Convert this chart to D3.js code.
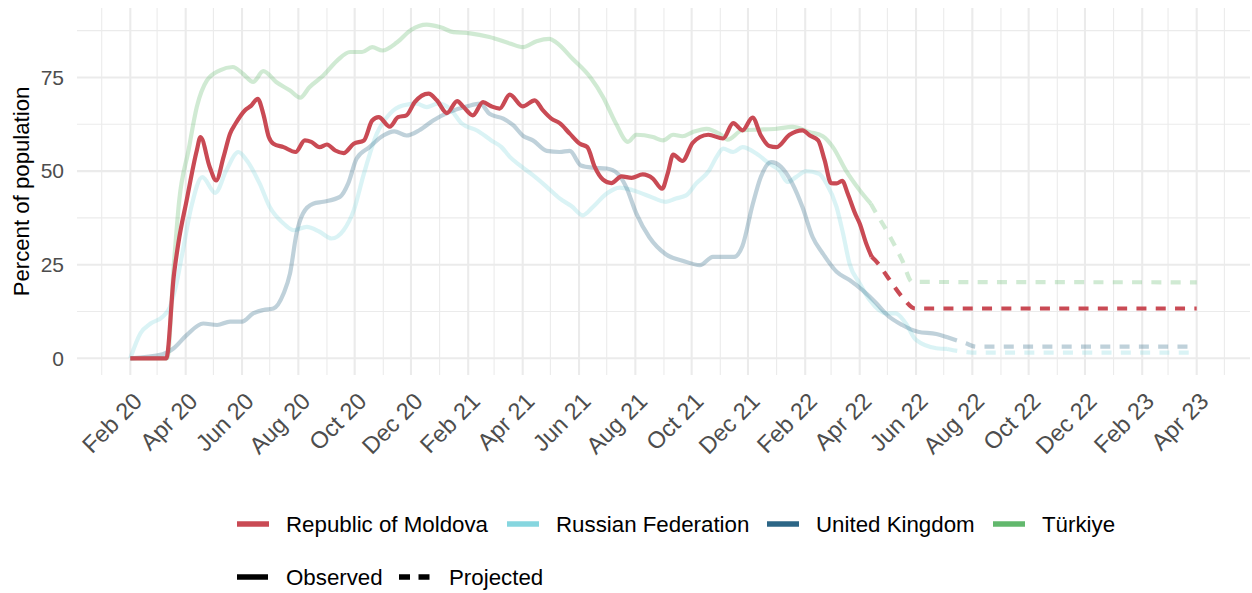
<!DOCTYPE html>
<html><head><meta charset="utf-8">
<script src="https://cdn.jsdelivr.net/npm/d3@7"></script>
<style>
html,body{margin:0;padding:0;background:#fff;}
svg{display:block;font-family:"Liberation Sans",Arial,sans-serif;}
</style></head>
<body><svg id="chart" width="1252" height="593"></svg>
<script>
// ---- data (percent of population) ----
const countries = ["Republic of Moldova","Russian Federation","United Kingdom","Türkiye"];
const colors = ["#c94a54","#86d6df","#2c6686","#62b86d"];
const statusLabels = ["Observed","Projected"];
const observedEnd = ["2022-04-14","2022-07-05","2022-07-05","2022-04-13"];

const moldova = [["2020-02-01",0],["2020-03-11",0],["2020-03-19",21.8],["2020-03-24",30.7],["2020-04-02",42.2],["2020-04-13",55.5],["2020-04-17",59.1],["2020-04-27",51.1],["2020-05-04",47.5],["2020-05-12",53.8],["2020-05-19",60],["2020-05-25",62.7],["2020-06-04",66.2],["2020-06-11",67.5],["2020-06-18",69.3],["2020-06-24",65.3],["2020-06-30",59.1],["2020-07-05",57.3],["2020-07-16",56.4],["2020-07-29",55.1],["2020-08-08",58.2],["2020-08-15",57.8],["2020-08-24",56.4],["2020-09-01",57.1],["2020-09-10",55.5],["2020-09-19",54.8],["2020-09-30",57.3],["2020-10-11",58.2],["2020-10-20",63.5],["2020-10-27",64.4],["2020-11-08",61.9],["2020-11-17",64.4],["2020-11-26",64.9],["2020-12-05",68.4],["2020-12-20",70.7],["2020-12-29",68.9],["2021-01-09",65.5],["2021-01-20",68.7],["2021-01-27",67.1],["2021-02-06",64.9],["2021-02-17",68.4],["2021-02-26",67.3],["2021-03-07",66.7],["2021-03-18",70.4],["2021-04-01",67.3],["2021-04-14",68.9],["2021-04-23",66.2],["2021-05-02",64],["2021-05-11",62.8],["2021-05-22",60],["2021-06-02",57.3],["2021-06-10",56.4],["2021-06-18",51.1],["2021-06-27",47.7],["2021-07-06",46.8],["2021-07-17",48.6],["2021-07-28",48.2],["2021-08-09",49.1],["2021-08-20",48],["2021-08-30",45.3],["2021-09-05",49.3],["2021-09-11",54.4],["2021-09-21",52.7],["2021-10-02",57.5],["2021-10-10",59.1],["2021-10-19",59.7],["2021-11-04",58.7],["2021-11-15",62.8],["2021-11-25",60.9],["2021-12-06",64.3],["2021-12-15",59.5],["2021-12-24",56.7],["2022-01-01",56.4],["2022-01-15",59.7],["2022-01-29",60.9],["2022-02-06",59.5],["2022-02-15",58.2],["2022-02-22",52.9],["2022-03-01",46.8],["2022-03-07",46.7],["2022-03-13",47.4],["2022-03-19",44],["2022-03-27",38.7],["2022-04-01",36],["2022-04-08",30.7],["2022-04-14",27.1],["2022-04-21",25.3],["2022-05-01",21.8],["2022-05-17",16.4],["2022-05-31",13.3],["2023-04-01",13.3]];

const russia = [["2020-02-01",0],["2020-02-12",6.7],["2020-02-23",9.3],["2020-03-07",11.1],["2020-03-15",13.8],["2020-03-22",20],["2020-03-29",28.9],["2020-04-07",40.4],["2020-04-19",48.4],["2020-05-03",44.2],["2020-05-15",50.2],["2020-05-28",55.1],["2020-06-06",52.9],["2020-06-20",46.7],["2020-07-01",40.4],["2020-07-16",36],["2020-07-27",34.2],["2020-08-10",35.1],["2020-08-24",33.8],["2020-09-06",32],["2020-09-19",34.2],["2020-09-30",39.5],["2020-10-11",49.3],["2020-10-25",60],["2020-11-08",65.3],["2020-11-22",67.5],["2020-12-07",68],["2020-12-18",67.1],["2020-12-30",68],["2021-01-12",66.7],["2021-01-25",62.7],["2021-02-10",60.9],["2021-02-26",58.2],["2021-03-09",56.4],["2021-03-18",53.8],["2021-03-29",51.5],["2021-04-12",48.9],["2021-04-27",45.8],["2021-05-11",42.7],["2021-05-24",40.6],["2021-06-05",38.2],["2021-06-16",40.4],["2021-07-01",44],["2021-07-15",45.6],["2021-07-29",44.9],["2021-08-16",43.3],["2021-09-03",41.8],["2021-09-14",42.7],["2021-09-25",43.5],["2021-10-06",46.7],["2021-10-20",50.2],["2021-10-28",53.8],["2021-11-04",56],["2021-11-15",55.1],["2021-11-25",56.4],["2021-12-10",54.7],["2021-12-24",52],["2022-01-04",50.2],["2022-01-13",47.1],["2022-01-22",48.4],["2022-02-02",50],["2022-02-16",49.3],["2022-02-24",46.7],["2022-03-07",40.4],["2022-03-14",33.3],["2022-03-21",25.3],["2022-04-01",20],["2022-04-12",15.5],["2022-04-30",12],["2022-05-10",12],["2022-05-21",9.3],["2022-06-01",4.9],["2022-06-23",2.7],["2022-07-05",2.5],["2022-07-18",1.9],["2022-08-08",1.5],["2023-04-01",1.5]];

const uk = [["2020-02-01",0],["2020-03-07",1.1],["2020-03-19",2.7],["2020-04-02",6.2],["2020-04-20",9.3],["2020-05-05",8.9],["2020-05-19",9.8],["2020-06-01",9.8],["2020-06-13",12],["2020-06-24",12.9],["2020-07-05",13.3],["2020-07-16",17.3],["2020-07-23",22.7],["2020-07-30",33.3],["2020-08-06",38.7],["2020-08-17",41.3],["2020-08-28",41.8],["2020-09-15",43.1],["2020-09-24",46.7],["2020-10-03",53.3],["2020-10-17",56.4],["2020-11-01",59.5],["2020-11-13",60.6],["2020-11-26",59.5],["2020-12-10",60.9],["2020-12-25",63.5],["2021-01-12",65.8],["2021-01-31",67.3],["2021-02-14",68],["2021-02-24",65.3],["2021-03-11",64],["2021-03-22",62.2],["2021-04-01",59.5],["2021-04-12",58.2],["2021-04-27",55.4],["2021-05-11",55.1],["2021-05-22",55.4],["2021-06-03",51.5],["2021-06-16",50.9],["2021-07-01",50.7],["2021-07-13",49.3],["2021-07-22",45.8],["2021-08-02",38.7],["2021-08-16",32.4],["2021-09-03",27.8],["2021-09-22",26],["2021-10-10",24.9],["2021-10-24",27.1],["2021-11-16",27.1],["2021-11-25",30],["2021-12-06",41],["2021-12-15",48.5],["2021-12-26",52.4],["2022-01-06",51.1],["2022-01-18",46.7],["2022-01-29",40.4],["2022-02-09",32.4],["2022-02-20",28],["2022-03-07",23.1],["2022-03-21",20.9],["2022-04-04",18.2],["2022-04-19",14.7],["2022-05-01",11.5],["2022-05-17",8.9],["2022-06-03",7.1],["2022-06-23",6.5],["2022-07-05",5.6],["2022-07-25",4],["2022-08-05",3.1],["2023-04-01",3.1]];

const turkiye = [["2020-02-01",0],["2020-03-12",0],["2020-03-19",24.4],["2020-03-25",42.2],["2020-04-04",55.5],["2020-04-13",67.1],["2020-04-24",74.2],["2020-05-08",76.9],["2020-05-22",77.8],["2020-06-02",76],["2020-06-13",73.8],["2020-06-24",76.7],["2020-07-08",73.8],["2020-07-23",71.5],["2020-08-03",69.6],["2020-08-13",72.4],["2020-08-28",75.5],["2020-09-12",79.5],["2020-09-26",81.8],["2020-10-09",81.8],["2020-10-20",83.1],["2020-10-31",82.2],["2020-11-16",84.4],["2020-12-01",87.7],["2020-12-18",89.1],["2021-01-02",88.4],["2021-01-16",87.1],["2021-02-03",86.8],["2021-02-24",85.8],["2021-03-18",84.1],["2021-04-01",83.1],["2021-04-16",84.7],["2021-04-30",85.3],["2021-05-07",84.4],["2021-05-25",80],["2021-06-13",75.1],["2021-06-27",69.8],["2021-07-11",62.7],["2021-07-24",57.8],["2021-08-02",59.7],["2021-08-20",59.1],["2021-08-31",58.2],["2021-09-11",59.7],["2021-09-21",59.3],["2021-10-02",60.4],["2021-10-17",61.3],["2021-11-01",59.8],["2021-11-09",58.4],["2021-11-25",60.9],["2021-12-14",61.1],["2022-01-01",61.3],["2022-01-18",61.8],["2022-02-06",60.4],["2022-02-20",59.3],["2022-03-03",56.4],["2022-03-17",50.2],["2022-04-01",44.9],["2022-04-13",41.3],["2022-04-19",38.7],["2022-04-30",34.2],["2022-05-17",26.2],["2022-05-28",20.4],["2023-04-01",20.3]];

const yTicks = [0,25,50,75];
const yMinor = [12.5,37.5,62.5,87.5];
const dataStart = "2020-02-01", dataEnd = "2023-04-01";

// ---- layout ----
const svg = d3.select("#chart");
const P = {left:77, right:1250, top:8, bottom:375};
const parse = d3.utcParse("%Y-%m-%d");
const t0 = parse(dataStart), t1 = parse(dataEnd);
const pad = (t1 - t0) * 0.05;
const x = d3.scaleUtc().domain([new Date(+t0 - pad), new Date(+t1 + pad)]).range([P.left, P.right]);
const yMax = 89.1, yPad = yMax*0.05;
const y = d3.scaleLinear().domain([-yPad, yMax + yPad]).range([P.bottom, P.top]);

const g = svg.append("g");
// grid
const allMonths = d3.utcMonth.range(d3.utcMonth.ceil(x.domain()[0]), x.domain()[1]);
const majorMonths = d3.utcMonth.range(t0, new Date(+t1 + 1), 2);
const majorSet = new Set(majorMonths.map(d=>+d));
g.selectAll(".vminor").data(allMonths.filter(d=>!majorSet.has(+d))).join("line")
  .attr("x1",d=>x(d)).attr("x2",d=>x(d)).attr("y1",P.top).attr("y2",P.bottom)
  .attr("stroke","#ebebeb").attr("stroke-width",1.1);
g.selectAll(".hminor").data(yMinor).join("line")
  .attr("x1",P.left).attr("x2",P.right).attr("y1",d=>y(d)).attr("y2",d=>y(d))
  .attr("stroke","#ebebeb").attr("stroke-width",1.1);
g.selectAll(".vmajor").data(majorMonths).join("line")
  .attr("x1",d=>x(d)).attr("x2",d=>x(d)).attr("y1",P.top).attr("y2",P.bottom)
  .attr("stroke","#ebebeb").attr("stroke-width",2.1);
g.selectAll(".hmajor").data(yTicks).join("line")
  .attr("x1",P.left).attr("x2",P.right).attr("y1",d=>y(d)).attr("y2",d=>y(d))
  .attr("stroke","#ebebeb").attr("stroke-width",2.1);

// y axis labels
const yAxis = d3.axisLeft(y).tickValues(yTicks).tickSize(0).tickPadding(13);
const ya = svg.append("g").attr("transform",`translate(${P.left},0)`).call(yAxis);
ya.select(".domain").remove();
ya.selectAll("text").attr("font-size",21).attr("fill","#4d4d4d").attr("font-family","Liberation Sans, Arial, sans-serif");

svg.append("text").attr("transform",`translate(29,${(P.top+P.bottom)/2}) rotate(-90)`)
  .attr("text-anchor","middle").attr("font-size",22.2).attr("fill","#000")
  .text("Percent of population");

// x axis labels
const fmt = d3.utcFormat("%b %y");
const xAxis = d3.axisBottom(x).tickValues(majorMonths).tickFormat(fmt).tickSize(0);
const xa = svg.append("g").attr("transform",`translate(0,${P.bottom})`).call(xAxis);
xa.select(".domain").remove();
xa.selectAll("text")
  .attr("font-size",23.5).attr("fill","#4d4d4d").attr("font-family","Liberation Sans, Arial, sans-serif")
  .attr("text-anchor","end").attr("y",0).attr("dy","0.71em")
  .attr("transform","translate(1,16) rotate(-45)");

// lines
const line = d3.line().x(d=>x(d[0])).y(d=>y(d[1])).curve(d3.curveMonotoneX);
const series = [moldova, russia, uk, turkiye];
const drawOrder = [3,1,2,0];
const lineW = 4.2;
drawOrder.forEach(i=>{
  const pts = series[i].map(d=>[parse(d[0]), d[1]]);
  const end = parse(observedEnd[i]);
  const obs = pts.filter(d=>d[0] <= end);
  const proj = pts.filter(d=>d[0] >= end);
  const op = i===0 ? 1 : 0.3;
  svg.append("path").attr("d",line(proj)).attr("fill","none").attr("stroke",colors[i])
    .attr("stroke-opacity",op).attr("stroke-width",lineW).attr("stroke-dasharray","10,9.3");
  svg.append("path").attr("d",line(obs)).attr("fill","none").attr("stroke",colors[i])
    .attr("stroke-opacity",op).attr("stroke-width",lineW).attr("stroke-linejoin","round");
});

// legend
const lg = svg.append("g").attr("font-size",22.3).attr("font-family","Liberation Sans, Arial, sans-serif");
const keyX = [237,507,767,993];
countries.forEach((c,i)=>{
  lg.append("line").attr("x1",keyX[i]).attr("x2",keyX[i]+32).attr("y1",524).attr("y2",524)
    .attr("stroke",colors[i]).attr("stroke-width",5.5);
  lg.append("text").attr("x",keyX[i]+49).attr("y",524).attr("dy","0.36em").attr("fill","#000").text(c);
});
const key2X = [237,399];
statusLabels.forEach((s,i)=>{
  lg.append("line").attr("x1",key2X[i]).attr("x2",key2X[i]+31).attr("y1",577).attr("y2",577)
    .attr("stroke","#000").attr("stroke-width",5.5).attr("stroke-dasharray", i===1 ? "11,8.5" : null);
  lg.append("text").attr("x",key2X[i]+(i===0?49:50)).attr("y",577).attr("dy","0.36em").attr("fill","#000").text(s);
});
</script></body></html>
